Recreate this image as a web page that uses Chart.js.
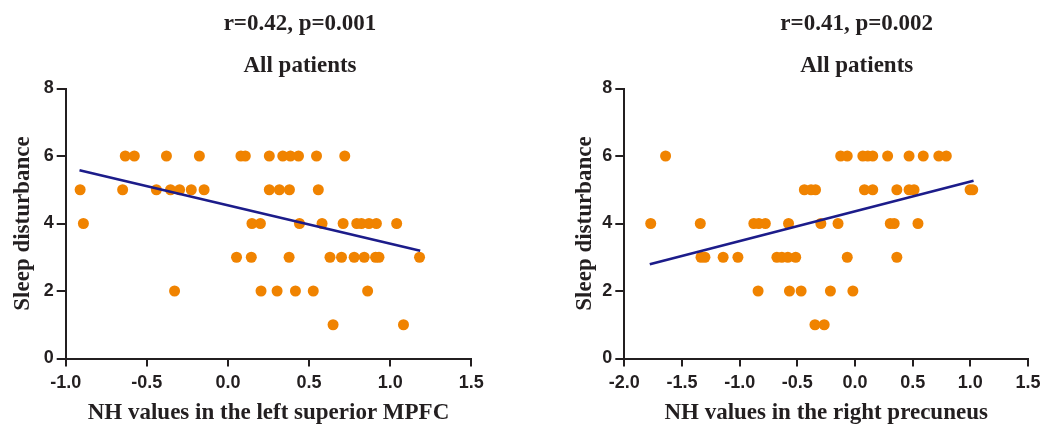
<!DOCTYPE html>
<html>
<head>
<meta charset="utf-8">
<script src="https://cdn.jsdelivr.net/npm/chart.js@4.4.1/dist/chart.umd.min.js"></script>
<style>
  html, body { margin: 0; padding: 0; background: #fff; overflow: hidden; }
  #wrap { position: relative; width: 1046px; height: 425px; }
  canvas { position: absolute; top: 0; }
</style>
</head>
<body>
<div id="wrap">
  <canvas id="leftChart" width="523" height="425" style="left:0px"></canvas>
  <canvas id="rightChart" width="523" height="425" style="left:523px"></canvas>
</div>
<script>
// Left panel: NH values in the left superior MPFC vs sleep disturbance
var mpfcX = [
  -0.633, -0.577, -0.379, -0.176, 0.080, 0.107, 0.255, 0.338, 0.385, 0.435, 0.546, 0.720,
  -0.911, -0.649, -0.441, -0.354, -0.298, -0.226, -0.147, 0.255, 0.317, 0.379, 0.557,
  -0.891, 0.148, 0.200, 0.441, 0.580, 0.710, 0.794, 0.823, 0.869, 0.915, 1.040,
  0.053, 0.144, 0.377, 0.629, 0.700, 0.778, 0.840, 0.910, 0.931, 1.181,
  -0.329, 0.204, 0.303, 0.416, 0.526, 0.861,
  0.648, 1.082
];
var mpfcY = [
  6, 6, 6, 6, 6, 6, 6, 6, 6, 6, 6, 6,
  5, 5, 5, 5, 5, 5, 5, 5, 5, 5, 5,
  4, 4, 4, 4, 4, 4, 4, 4, 4, 4, 4,
  3, 3, 3, 3, 3, 3, 3, 3, 3, 3,
  2, 2, 2, 2, 2, 2,
  1, 1
];
var mpfcFitX = [-0.915, 1.185];
var mpfcFitY = [5.58, 3.19];

// Right panel: NH values in the right precuneus vs sleep disturbance
var precX = [
  -1.642, -0.124, -0.067, 0.068, 0.111, 0.154, 0.283, 0.469, 0.592, 0.727, 0.792,
  -0.439, -0.381, -0.342, 0.082, 0.154, 0.363, 0.469, 0.512, 0.998, 1.021,
  -1.771, -1.341, -0.877, -0.834, -0.777, -0.576, -0.296, -0.147, 0.306, 0.340, 0.546,
  -1.335, -1.301, -1.143, -1.015, -0.677, -0.634, -0.582, -0.514, -0.067, 0.363,
  -0.840, -0.568, -0.467, -0.213, -0.018,
  -0.347, -0.267
];
var precY = [
  6, 6, 6, 6, 6, 6, 6, 6, 6, 6, 6,
  5, 5, 5, 5, 5, 5, 5, 5, 5, 5,
  4, 4, 4, 4, 4, 4, 4, 4, 4, 4, 4,
  3, 3, 3, 3, 3, 3, 3, 3, 3, 3,
  2, 2, 2, 2, 2,
  1, 1
];
var precFitX = [-1.779, 1.028];
var precFitY = [2.79, 5.27];

var leftHeadings = ['r=0.42, p=0.001', 'All patients'];
var rightHeadings = ['r=0.41, p=0.002', 'All patients'];
var yTitle = 'Sleep disturbance';
var leftXTitle = 'NH values in the left superior MPFC';
var rightXTitle = 'NH values in the right precuneus';

var ink = '#231f20';
var serif = '"Liberation Serif", "Times New Roman", serif';
var sans = '"Liberation Sans", Arial, sans-serif';

function pairs(xs, ys) {
    return xs.map(function (x, i) { return {x: x, y: ys[i]}; });
}

// draws the two heading lines above each plot
var headingPlugin = {
    id: 'headings',
    afterDraw: function (chart, args, opts) {
        var ctx = chart.ctx;
        ctx.save();
        ctx.font = 'bold 23px ' + serif;
        ctx.fillStyle = ink;
        ctx.textAlign = 'center';
        ctx.textBaseline = 'alphabetic';
        ctx.fillText(opts.lines[0], opts.x, 29.5);
        ctx.fillText(opts.lines[1], opts.x, 72);
        ctx.restore();
    }
};

function makeChart(id, o) {
    var ctx = document.getElementById(id).getContext('2d');
    return new Chart(ctx, {
        type: 'scatter',
        data: {
            datasets: [{
                type: 'line',
                label: 'fit',
                data: pairs(o.fitX, o.fitY),
                borderColor: '#1c1c8a',
                borderWidth: 2.6,
                pointRadius: 0,
                fill: false,
                order: 0
            }, {
                label: 'patients',
                data: pairs(o.xs, o.ys),
                backgroundColor: '#f08300',
                borderWidth: 0,
                pointRadius: 5.5,
                pointHoverRadius: 5.5,
                order: 1
            }]
        },
        plugins: [headingPlugin],
        options: {
            responsive: false,
            animation: false,
            events: [],
            layout: {padding: {left: o.padLeft, right: o.padRight, top: 88.5, bottom: 0}},
            plugins: {
                legend: {display: false},
                tooltip: {enabled: false},
                headings: {lines: o.headings, x: o.headX}
            },
            scales: {
                x: {
                    type: 'linear',
                    min: o.xMin,
                    max: 1.5,
                    afterFit: function (s) { s.height = 66.5; },
                    border: {display: true, color: ink, width: 2},
                    grid: {drawOnChartArea: false, drawTicks: true, tickLength: 8, color: ink, lineWidth: 2},
                    ticks: {
                        stepSize: 0.5,
                        padding: 5.5,
                        color: ink,
                        font: {family: sans, size: 18, weight: 'bold'},
                        callback: function (v) { return v.toFixed(1); }
                    },
                    title: {
                        display: true,
                        text: o.xTitle,
                        color: ink,
                        font: {family: serif, size: 23, weight: 'bold'},
                        padding: {top: 0, bottom: -2}
                    }
                },
                y: {
                    min: 0,
                    max: 8,
                    afterFit: function (s) { s.width = o.yWidth; },
                    border: {display: true, color: ink, width: 2},
                    grid: {drawOnChartArea: false, drawTicks: true, tickLength: 9, color: ink, lineWidth: 2},
                    ticks: {
                        stepSize: 2,
                        padding: 3,
                        color: ink,
                        font: {family: sans, size: 18, weight: 'bold'}
                    },
                    title: {
                        display: true,
                        text: yTitle,
                        color: ink,
                        font: {family: serif, size: 23, weight: 'bold'},
                        padding: {top: o.yTitlePad, bottom: 0}
                    }
                }
            }
        }
    });
}

var leftChart = makeChart('leftChart', {
    xs: mpfcX, ys: mpfcY, fitX: mpfcFitX, fitY: mpfcFitY,
    headings: leftHeadings, headX: 300, xTitle: leftXTitle,
    xMin: -1, padLeft: 0, padRight: 51.7, yWidth: 65.7, yTitlePad: 9.7
});

var rightChart = makeChart('rightChart', {
    xs: precX, ys: precY, fitX: precFitX, fitY: precFitY,
    headings: rightHeadings, headX: 333.7, xTitle: rightXTitle,
    xMin: -2, padLeft: 41.3, padRight: 14.3, yWidth: 60, yTitlePad: 7.4
});
</script>
</body>
</html>
